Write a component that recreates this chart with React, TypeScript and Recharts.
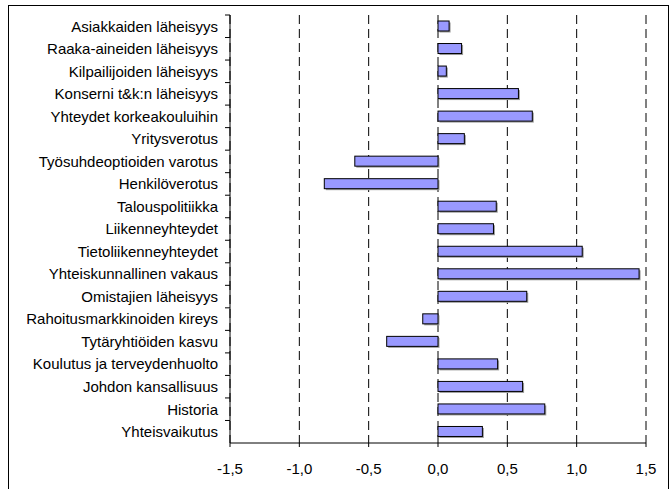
import React from 'react';
import { BarChart, Bar, XAxis, YAxis, CartesianGrid } from 'recharts';

const categories = [
  'Asiakkaiden läheisyys',
  'Raaka-aineiden läheisyys',
  'Kilpailijoiden läheisyys',
  'Konserni t&k:n läheisyys',
  'Yhteydet korkeakouluihin',
  'Yritysverotus',
  'Työsuhdeoptioiden varotus',
  'Henkilöverotus',
  'Talouspolitiikka',
  'Liikenneyhteydet',
  'Tietoliikenneyhteydet',
  'Yhteiskunnallinen vakaus',
  'Omistajien läheisyys',
  'Rahoitusmarkkinoiden kireys',
  'Tytäryhtiöiden kasvu',
  'Koulutus ja terveydenhuolto',
  'Johdon kansallisuus',
  'Historia',
  'Yhteisvaikutus',
];

const values = [
  0.08, 0.17, 0.06, 0.58, 0.68, 0.19, -0.6, -0.82, 0.42, 0.4, 1.04, 1.45, 0.64,
  -0.11, -0.37, 0.43, 0.61, 0.77, 0.32,
];

const xTicks = [-1.5, -1.0, -0.5, 0.0, 0.5, 1.0, 1.5];
const gridTicks = [-1.0, -0.5, 0.0, 0.5, 1.0];
const xDomain: [number, number] = [-1.5, 1.5];

const data = categories.map((name, i) => ({ name, value: values[i] }));

const W = 671;
const H = 489;
const M = { top: 15, right: 25, bottom: 16, left: 8 };
const Y_W = 222;
const X_H = 30;
const AXIS_X = M.left + Y_W;
const PLOT_H = H - M.top - M.bottom - X_H;
const BAND = PLOT_H / categories.length;
const FONT = '"Liberation Sans", Arial, sans-serif';

const CatTick = (props: any) => {
  const { x, y, payload } = props;
  return (
    <g>
      <line x1={AXIS_X - 5} x2={AXIS_X} y1={y - BAND / 2} y2={y - BAND / 2} stroke="#000" strokeWidth={1} />
      <text x={x} y={y} dy="0.355em" textAnchor="end" fontSize={15} fontFamily={FONT} fill="#000">
        {payload.value}
      </text>
    </g>
  );
};

const BarShape = (p: any) => {
  const x = Math.min(p.x, p.x + p.width);
  const w = Math.abs(p.width);
  const y = Math.min(p.y, p.y + p.height);
  const h = Math.abs(p.height);
  return (
    <g>
      <rect x={x + 1.5} y={y + 1.5} width={w} height={h} fill="#9c9c9c" />
      <rect x={x} y={y} width={w} height={h} fill="#9999ff" stroke="#000" strokeWidth={1} />
    </g>
  );
};

export default function App() {
  return (
    <div style={{ position: 'absolute', left: 0, top: 0, width: W, height: H, overflow: 'hidden', background: '#fff' }}>
      <div
        style={{
          position: 'absolute',
          left: 8,
          top: 5,
          width: 661,
          height: 520,
          border: '1px solid #000',
          boxSizing: 'border-box',
        }}
      />
      <div style={{ position: 'absolute', left: 0, top: 0 }}>
        <BarChart width={W} height={H} data={data} layout="vertical" margin={M} barSize={10}>
          <XAxis xAxisId="grid" type="number" domain={xDomain} ticks={gridTicks} hide allowDataOverflow />
          <CartesianGrid xAxisId="grid" horizontal={false} vertical={true} stroke="#000" strokeDasharray="9 5" />
          <XAxis
            type="number"
            domain={xDomain}
            ticks={xTicks}
            allowDataOverflow
            interval={0}
            height={X_H}
            tickFormatter={(v: number) => v.toFixed(1).replace('.', ',')}
            tick={{ fontSize: 15, fontFamily: FONT, fill: '#000' }}
            axisLine={{ stroke: '#000', strokeWidth: 1 }}
            tickLine={{ stroke: '#000', strokeWidth: 1 }}
            tickSize={4}
            tickMargin={16}
          />
          <XAxis
            xAxisId="top"
            orientation="top"
            type="number"
            domain={xDomain}
            allowDataOverflow
            height={0}
            tick={false}
            tickLine={false}
            axisLine={{ stroke: '#a8a8a8', strokeWidth: 1.5 }}
          />
          <YAxis
            type="category"
            dataKey="name"
            width={Y_W}
            interval={0}
            tick={<CatTick />}
            tickLine={false}
            tickSize={5}
            tickMargin={7}
            axisLine={{ stroke: '#000', strokeWidth: 1 }}
          />
          <YAxis
            yAxisId="right"
            orientation="right"
            type="category"
            dataKey="name"
            width={0}
            tick={false}
            tickLine={false}
            axisLine={{ stroke: '#a8a8a8', strokeWidth: 1.5 }}
          />
          <Bar dataKey="value" isAnimationActive={false} shape={<BarShape />} />
        </BarChart>
      </div>
    </div>
  );
}
